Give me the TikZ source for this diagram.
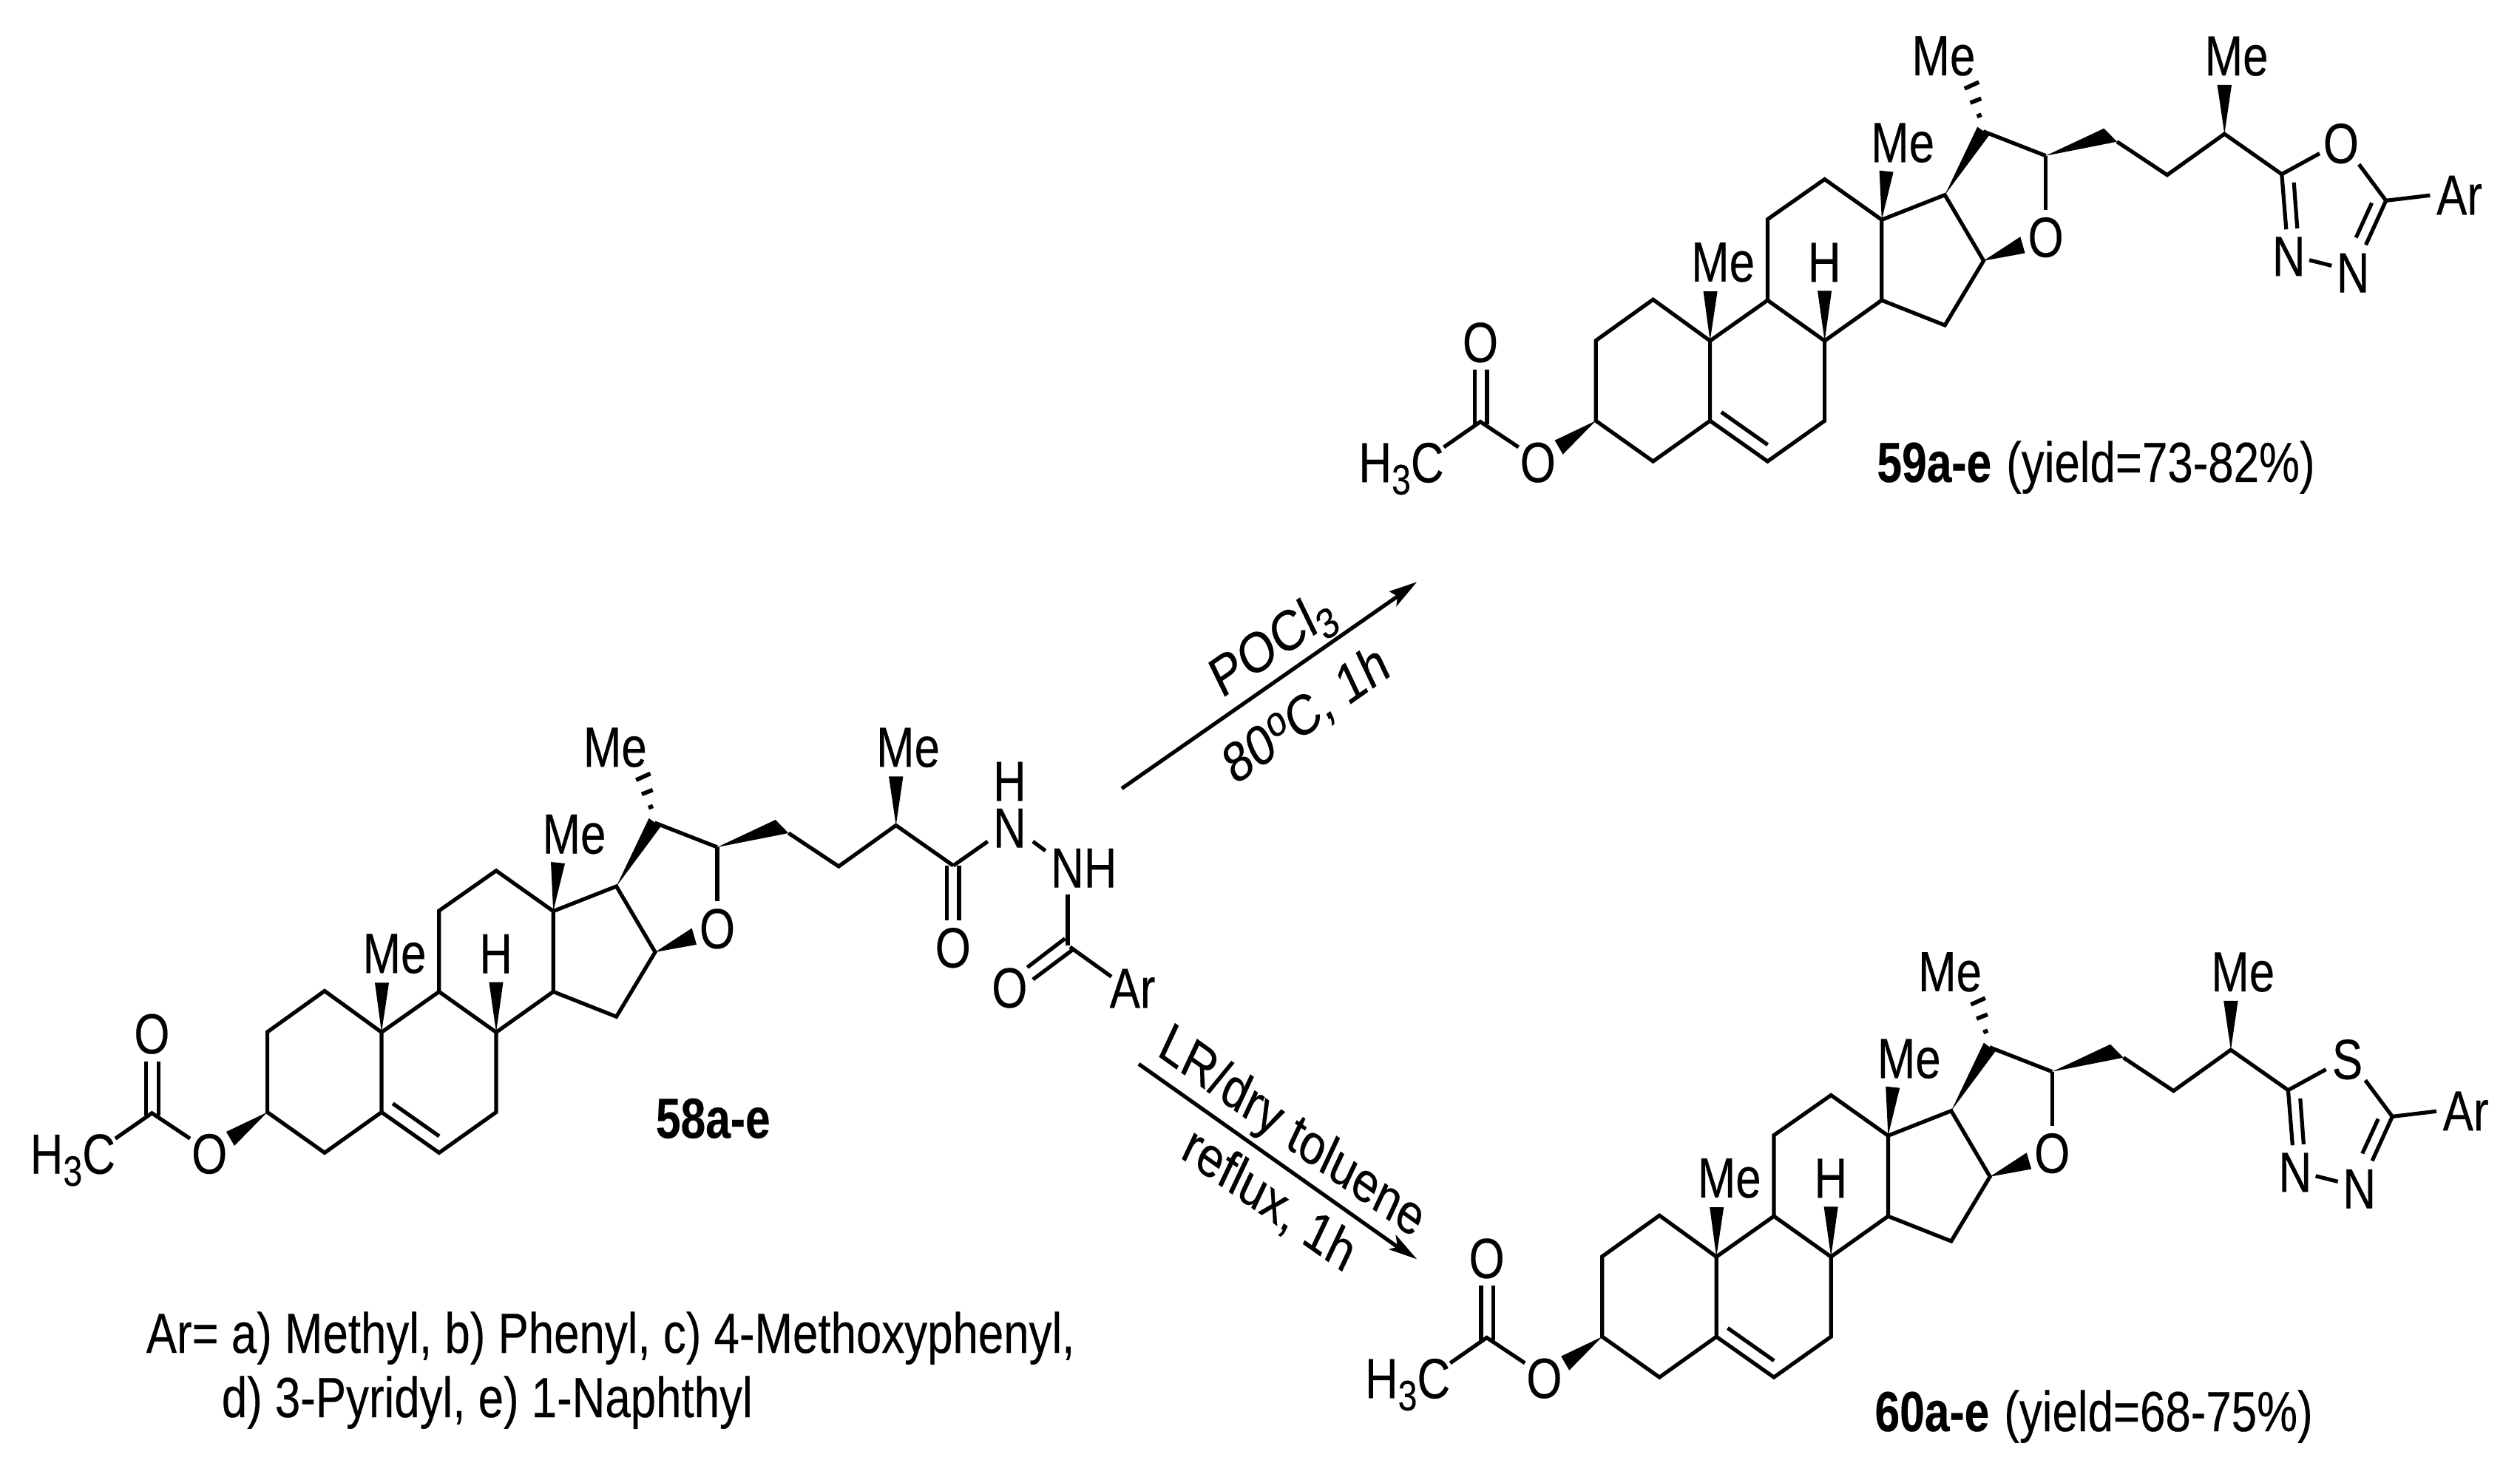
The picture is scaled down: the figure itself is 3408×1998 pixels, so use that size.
\documentclass[tikz,border=0pt]{standalone}
\usepackage{fontspec}
\usepackage{graphicx}
\setmainfont[FakeBold=0.25,BoldFont={Liberation Sans Bold},BoldFeatures={FakeBold=0.25}]{Liberation Sans}
\newcommand\chemfont{\fontsize{19.15}{23}\selectfont}
\newcommand\subfont{\fontsize{14.4}{15}\selectfont}
\newcommand\tx[1]{\scalebox{.807}[1]{#1}}
\newcommand\subthree{\raisebox{-4.1pt}{\subfont 3}}
\tikzset{
  bond/.style={line width=1.3pt,line join=miter,black},
  hash/.style={line width=1.4pt,black},
  wedge/.style={fill=black,draw=none},
  atom/.style={circle,inner sep=0pt,font=\chemfont},
  lab/.style={inner sep=0pt,font=\chemfont},
  rxn/.style={line width=1.3pt,black}
}
% common steroid skeleton, drawn in the frame of compound 58
\newcommand\steroid[3]{%
\begin{scope}[shift={#1},name prefix=#2-]
  \coordinate (C3) at (361.6,1504.5); \coordinate (C4) at (439,1559.4);
  \coordinate (C5) at (516,1504.5);   \coordinate (C10) at (516,1396.4);
  \coordinate (C1) at (439,1340.5);   \coordinate (C2) at (361.6,1396);
  \coordinate (C6) at (593.8,1559.4); \coordinate (C7) at (671,1504.5);
  \coordinate (C8) at (671,1396.4);   \coordinate (C9) at (593.8,1341.5);
  \coordinate (C11) at (593.8,1232);  \coordinate (C12) at (671,1177.8);
  \coordinate (C13) at (748.2,1232.6);\coordinate (C14) at (748.2,1341.5);
  \coordinate (C15) at (833.6,1375.3);\coordinate (C16) at (886,1288);
  \coordinate (C17) at (833.6,1199);  \coordinate (C20) at (885.5,1113);
  \coordinate (C22) at (970,1146);    \coordinate (C24) at (1134.2,1172);
  \coordinate (C25) at (1211.7,1116.5);\coordinate (C26) at (1289.2,1171);
  \coordinate (Ac) at (205.4,1505.8);
  % rings and chain
  \draw[bond] (C3)--(C4)--(C5)--(C10)--(C1)--(C2)--cycle;
  \draw[bond] (C5)--(C6)--(C7)--(C8)--(C9)--(C10);
  \draw[bond] (C9)--(C11)--(C12)--(C13)--(C14)--(C8);
  \draw[bond] (C14)--(C15)--(C16)--(C17)--(C13);
  \coordinate (db1) at (531.3,1492.8); \coordinate (db2) at (594,1537);
  \draw[bond] (db1)--(db2);
  \draw[bond] (C20)--(C22);
  % wedges
  \coordinate (w1a) at (745,1166); \coordinate (w1b) at (764,1168);
  \fill[wedge] (C13)--(w1a)--(w1b)--cycle;
  \coordinate (w2a) at (507,1329.5); \coordinate (w2b) at (526,1329.5);
  \fill[wedge] (C10)--(w2a)--(w2b)--cycle;
  \coordinate (w3a) at (661.4,1328.6); \coordinate (w3b) at (680.5,1328.6);
  \fill[wedge] (C8)--(w3a)--(w3b)--cycle;
  \coordinate (w4a) at (877.6,1106.9); \coordinate (w4b) at (893.4,1118.4);
  \fill[wedge] (C17)--(w4a)--(w4b)--cycle;
  \coordinate (w5a) at (935.6,1255.6); \coordinate (w5b) at (942,1277.8);
  \fill[wedge] (C16)--(w5a)--(w5b)--cycle;
  \coordinate (w6a) at (1048.8,1109); \coordinate (w6b) at (1066.4,1127);
  \fill[wedge] (C22)--(w6a)--(w6b)--cycle;
  \draw[bond] (w6b)--(C24)--(C25)--(C26);
  \coordinate (w7a) at (1202,1050.3); \coordinate (w7b) at (1221.4,1050.3);
  \fill[wedge] (C25)--(w7a)--(w7b)--cycle;
  \coordinate (w8a) at (306,1531); \coordinate (w8b) at (317,1550);
  \fill[wedge] (C3)--(w8a)--(w8b)--cycle;
  % hashed bond
  \coordinate (h1a) at (860.2,1055.2); \coordinate (h1b) at (879.6,1046.4);
  \coordinate (h2a) at (867.9,1074.4); \coordinate (h2b) at (882.7,1068.6);
  \coordinate (h3a) at (877,1092.8);   \coordinate (h3b) at (883,1090.4);
  \draw[hash] (h1a)--(h1b) (h2a)--(h2b) (h3a)--(h3b);
  % labels
  \node[lab] (Me13) at (776.5,1128.6) {\tx{Me}};
  \node[lab] (Me10) at (533.5,1290.2) {\tx{Me}};
  \node[lab] (H8) at (670.6,1290.2) {\tx{H}};
  \node[lab] (Me20) at (831.8,1011.2) {\tx{Me}};
  \node[lab] (Me25) at (1228,1011.4) {\tx{Me}};
  \node[atom] (O21) at (970,1256.4) {\tx{O}};
  \draw[bond] (C22)--(O21);
  % acetate
  \node[atom] (Oe) at (283.2,1561) {\tx{O}};
  \node[atom] (Oa) at (205.4,1398.7) {\tx{O}};
  \node[lab,anchor=base west] (Me3C) at (40,1587.7) {\tx{H\subthree C}};
  \coordinate (a1) at (197.7,1435.7); \coordinate (a2) at (197.7,1509);
  \coordinate (a3) at (214.3,1435.7); \coordinate (a4) at (214.3,1509);
  \draw[bond] (a1)--(a2) (a3)--(a4);
  \coordinate (a5) at (156,1540.2); \coordinate (a6) at (257,1540.2);
  \draw[bond] (a5)--(Ac)--(a6);
  #3
\end{scope}}
% azole tail of 59 and 60
\newcommand\azole[1]{%
  \node[atom] (Xr) at (1369.3,1129.5) {\tx{#1}};
  \node[atom] (N1) at (1298.7,1282.2) {\tx{N}};
  \node[atom] (N2) at (1385.5,1304.5) {\tx{N}};
  \node[lab] (Ar) at (1529.4,1199.3) {\tx{Ar}};
  \coordinate (Cz) at (1430.1,1206.7);
  \coordinate (z1) at (1340.4,1142.9); \coordinate (z2) at (1393.6,1157.6);
  \coordinate (z3) at (1489.7,1199.6); \coordinate (z4) at (1295.2,1245.6);
  \coordinate (z5) at (1305.6,1182.2); \coordinate (z6) at (1310.2,1244.2);
  \coordinate (z7) at (1326.4,1287.1); \coordinate (z8) at (1356.6,1294.7);
  \coordinate (z9) at (1402.9,1266.6); \coordinate (z10) at (1411,1209.9);
  \coordinate (z11) at (1389.6,1256.7);
  \draw[bond] (C26)--(z1) (z2)--(Cz)--(z3) (C26)--(z4) (z5)--(z6)
    (z7)--(z8) (Cz)--(z9) (z10)--(z11);
}
\begin{document}
\begin{tikzpicture}[x=.25pt,y=-.25pt]
\fill[white] (0,0) rectangle (3408,1998);
\useasboundingbox (0,0) rectangle (3408,1998);

% compound 58
\steroid{(0,0)}{a}{%
  \node[atom] (O1) at (1288.8,1282.2) {\tx{O}};
  \node[lab] (N1) at (1365.4,1120.3) {\tx{N}};
  \node[lab] (HN) at (1365.4,1057) {\tx{H}};
  \node[lab] (NH) at (1465.8,1174.3) {\tx{NH}};
  \node[atom] (O2) at (1365.3,1336.5) {\tx{O}};
  \node[lab] (Ar) at (1531.6,1337) {\tx{Ar}};
  \coordinate (t1) at (1280.6,1171); \coordinate (t2) at (1280.6,1245.4);
  \coordinate (t3) at (1296.9,1171); \coordinate (t4) at (1296.9,1245.4);
  \draw[bond] (t1)--(t2) (t3)--(t4);
  \coordinate (t5) at (1335.7,1138.3); \draw[bond] (C26)--(t5);
  \coordinate (t6) at (1396.9,1138.3); \coordinate (t7) at (1413.8,1150.9);
  \draw[bond] (t6)--(t7);
  \coordinate (t8) at (1443.9,1210.2); \coordinate (t9) at (1443.9,1279.1);
  \draw[bond] (t8)--(t9);
  \coordinate (t10) at (1440.3,1269.6); \coordinate (t11) at (1389.3,1308.6);
  \coordinate (t12) at (1450.5,1284.9); \coordinate (t13) at (1396.9,1325);
  \draw[bond] (t10)--(t11) (t12)--(t13);
  \coordinate (t14) at (1447,1281); \coordinate (t15) at (1503,1321.2);
  \draw[bond] (t14)--(t15);
}
\node[lab] (c58) at (964.3,1513) {\scalebox{.79}[1]{\bfseries 58a-e}};

% compound 59
\steroid{(1796.6,-935.3)}{b}{\azole{O}}
\node[lab,anchor=base west] (c59) at (2537.6,652) {\scalebox{.79}[1]{\bfseries 59a-e}\hspace{5pt}\scalebox{.807}[1]{(yield=73-82\%)}};

% compound 60
\steroid{(1805.2,303.7)}{c}{\azole{S}}
\node[lab,anchor=base west] (c60) at (2534.7,1936) {\scalebox{.79}[1]{\bfseries 60a-e}\hspace{5pt}\scalebox{.807}[1]{(yield=68-75\%)}};

% reaction arrows
\coordinate (r1s) at (1517,1066.7); \coordinate (r1t) at (1916.1,787.3);
\coordinate (r1a) at (1878.6,800); \coordinate (r1b) at (1888.2,820.7);
\coordinate (r1n) at (1890,806.7);
\draw[rxn] (r1s)--(r1n);
\fill (r1t)--(r1a)--(r1n)--(r1b)--cycle;
\coordinate (r2s) at (1540,1439.3); \coordinate (r2t) at (1916.1,1703.3);
\coordinate (r2a) at (1887.4,1670); \coordinate (r2b) at (1877.9,1690);
\coordinate (r2n) at (1890,1686.7);
\draw[rxn] (r2s)--(r2n);
\fill (r2t)--(r2a)--(r2n)--(r2b)--cycle;

\node[lab] (t1) at (1722,875) {\scalebox{.84}[1]{\rotatebox{30}{POCl\subthree}}};
\node[lab] (t2) at (1767,968) {\scalebox{.82}[1]{\rotatebox{30}{80\raisebox{5.5pt}{\subfont o}C, 1h}}};
\node[lab] (t3) at (1746,1534) {\scalebox{.81}[1]{\rotatebox{-30}{LR/dry toluene}}};
\node[lab] (t4) at (1716,1624) {\scalebox{.82}[1]{\rotatebox{-30}{reflux, 1h}}};

% legend
\node[lab,anchor=base west] (l1) at (197,1830) {\tx{Ar= a) Methyl, b) Phenyl, c) 4-Methoxyphenyl,}};
\node[lab,anchor=base west] (l2) at (299,1917) {\tx{d) 3-Pyridyl, e) 1-Naphthyl}};
\end{tikzpicture}
\end{document}
